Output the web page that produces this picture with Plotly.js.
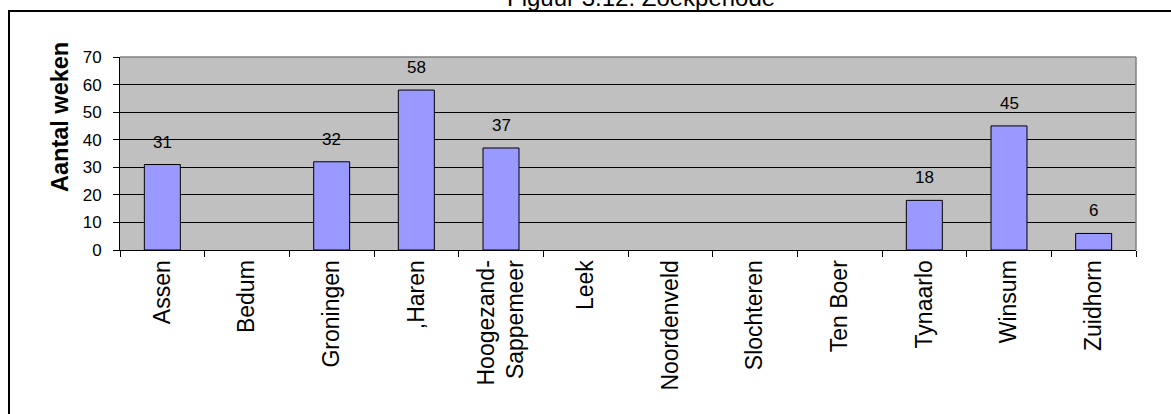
<!DOCTYPE html>
<html>
<head>
<meta charset="utf-8">
<script src="https://cdn.plot.ly/plotly-3.0.1.min.js"></script>
<style>
  html, body { margin: 0; padding: 0; background: #ffffff; }
  #chart { width: 1171px; height: 414px; }
</style>
</head>
<body>
<div id="chart"></div>
<script>
// Zoekperiode per gemeente, in weken
const gemeenten = [
  'Assen', 'Bedum', 'Groningen', ',Haren', 'Hoogezand-<br>Sappemeer', 'Leek',
  'Noordenveld', 'Slochteren', 'Ten Boer', 'Tynaarlo', 'Winsum', 'Zuidhorn'
];
const weken = [31, null, 32, 58, 37, null, null, null, null, 18, 45, 6];
const yTicks = [0, 10, 20, 30, 40, 50, 60, 70];

const titel = 'Figuur 3.12: Zoekperiode';
const yTitel = 'Aantal weken';

const FONT = 'Liberation Sans, Arial, Helvetica, sans-serif';

// plot area in pixels, used to place the free-floating texts and frame
const W = 1171, H = 414;
const M = { l: 120, r: 35, t: 57, b: 164 };
const pw = W - M.l - M.r, ph = H - M.t - M.b;
const px = x => (x - M.l) / pw;
const py = y => (H - M.b - y) / ph;

const trace = {
  type: 'bar',
  x: gemeenten,
  y: weken,
  marker: { color: '#9999FF', line: { color: '#000000', width: 1 } },
  hoverinfo: 'x+y'
};

// value labels above each bar
const waardeLabels = gemeenten
  .map((g, i) => ({ g, v: weken[i] }))
  .filter(d => d.v !== null)
  .map(d => ({
    x: d.g, y: d.v, xref: 'x', yref: 'y',
    text: String(d.v), showarrow: false,
    yanchor: 'bottom', yshift: 11,
    font: { family: FONT, size: 17, color: '#000000' }
  }));

const layout = {
  width: W, height: H,
  margin: { l: M.l, r: M.r, t: M.t, b: M.b, pad: 0 },
  paper_bgcolor: '#ffffff',
  plot_bgcolor: '#C0C0C0',
  showlegend: false,
  bargap: 0.575,
  font: { family: FONT, color: '#000000' },
  xaxis: {
    type: 'category',
    range: [-0.5, gemeenten.length - 0.5],
    tickangle: -90,
    tickson: 'boundaries',
    ticks: 'outside', ticklen: 6, tickwidth: 1, tickcolor: '#000000',
    showline: true, linecolor: '#000000', linewidth: 1,
    showgrid: false, zeroline: false,
    tickfont: { family: FONT, size: 23, color: '#000000' },
    automargin: false, fixedrange: true
  },
  yaxis: {
    range: [0, 70],
    tickvals: yTicks,
    ticktext: yTicks.map(String),
    ticks: 'outside', ticklen: 6, tickwidth: 1, tickcolor: '#000000',
    showline: true, linecolor: '#000000', linewidth: 1,
    showgrid: true, gridcolor: '#000000', gridwidth: 1,
    zeroline: false,
    ticklabelstandoff: 8,
    tickfont: { family: FONT, size: 17, color: '#000000' },
    automargin: false, fixedrange: true
  },
  shapes: [
    // outer chart frame
    { type: 'rect', xref: 'paper', yref: 'paper',
      x0: px(9), x1: px(1190), y0: py(440), y1: py(11),
      line: { color: '#000000', width: 2 }, fillcolor: 'rgba(0,0,0,0)', layer: 'above' },
    // grey plot-area border on top and right
    { type: 'line', xref: 'paper', yref: 'paper', x0: 0, x1: 1, y0: 1, y1: 1,
      line: { color: '#808080', width: 1.5 }, layer: 'above' },
    { type: 'line', xref: 'paper', yref: 'paper', x0: 1, x1: 1, y0: 0, y1: 1,
      line: { color: '#808080', width: 1.5 }, layer: 'above' }
  ],
  annotations: [
    { text: titel, xref: 'paper', yref: 'paper', x: px(641), y: py(13),
      xanchor: 'center', yanchor: 'bottom', showarrow: false,
      font: { family: FONT, size: 24, color: '#000000' } },
    { text: '<b>' + yTitel + '</b>', xref: 'paper', yref: 'paper',
      x: px(60), y: py(117), xanchor: 'center', yanchor: 'middle',
      textangle: -90, showarrow: false,
      font: { family: FONT, size: 23.5, color: '#000000' } }
  ].concat(waardeLabels)
};

Plotly.newPlot('chart', [trace], layout, { displayModeBar: false, staticPlot: true });
</script>
</body>
</html>
